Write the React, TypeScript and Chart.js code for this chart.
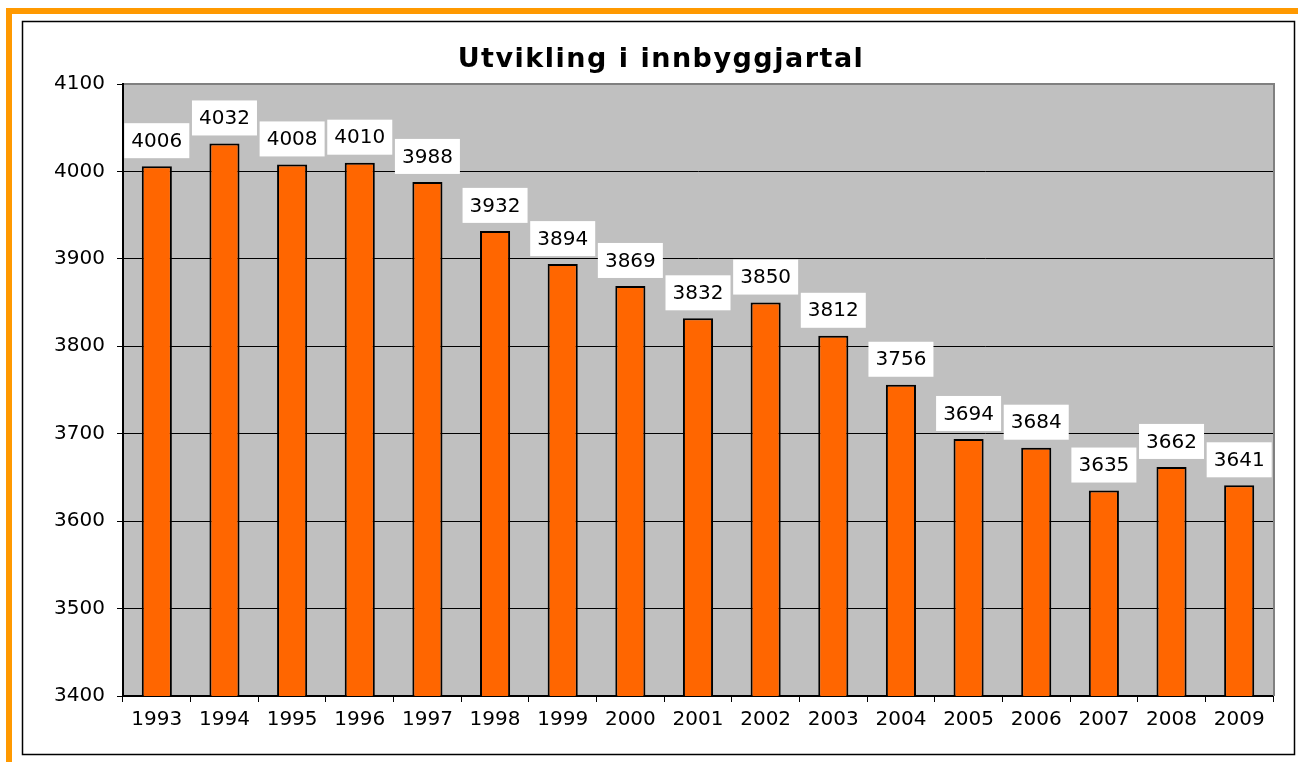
import React, { useEffect, useRef } from "react";
import { Chart, registerables } from "chart.js";

Chart.register(...registerables);

const chartTitle = "Utvikling i innbyggjartal";
const years = ["1993", "1994", "1995", "1996", "1997", "1998", "1999", "2000", "2001", "2002", "2003", "2004", "2005", "2006", "2007", "2008", "2009"];
const population = [4006, 4032, 4008, 4010, 3988, 3932, 3894, 3869, 3832, 3850, 3812, 3756, 3694, 3684, 3635, 3662, 3641];
const yMin = 3400;
const yMax = 4100;
const yStep = 100;

const FONT = "'DejaVu Sans', sans-serif";

const decorPlugin = {
  id: "decor",
  beforeDraw(chart: any) {
    const { ctx, chartArea, width, height } = chart;
    ctx.save();
    ctx.fillStyle = "#ffffff";
    ctx.fillRect(0, 0, width, height);
    // orange bands
    ctx.fillStyle = "#FF9900";
    ctx.fillRect(6, 8, width - 6, 6);
    ctx.fillRect(6, 8, 6, height - 8);
    // black frame
    ctx.strokeStyle = "#000";
    ctx.lineWidth = 1.5;
    ctx.strokeRect(22.5, 21.5, 1272, 733);
    // plot background
    ctx.fillStyle = "#C0C0C0";
    ctx.fillRect(chartArea.left, chartArea.top, chartArea.right - chartArea.left, chartArea.bottom - chartArea.top);
    ctx.restore();
  },
  afterDatasetsDraw(chart: any) {
    const { ctx } = chart;
    const meta = chart.getDatasetMeta(0);
    const data = chart.data.datasets[0].data;
    ctx.save();
    ctx.font = `20px ${FONT}`;
    ctx.textAlign = "center";
    ctx.textBaseline = "middle";
    meta.data.forEach((bar: any, i: number) => {
      const bw = 65;
      const bh = 35;
      const bottom = bar.y - 8;
      ctx.fillStyle = "#ffffff";
      ctx.fillRect(bar.x - bw / 2, bottom - bh, bw, bh);
      ctx.fillStyle = "#000";
      ctx.fillText(String(data[i]), bar.x, bottom - bh / 2 + 1);
    });
    ctx.restore();
  },
  afterDraw(chart: any) {
    const { ctx, chartArea } = chart;
    ctx.save();
    ctx.strokeStyle = "#808080";
    ctx.lineWidth = 2;
    ctx.beginPath();
    ctx.moveTo(chartArea.left + 1, chartArea.top);
    ctx.lineTo(chartArea.right + 1, chartArea.top);
    ctx.lineTo(chartArea.right + 1, chartArea.bottom);
    ctx.stroke();
    ctx.fillStyle = "#000";
    ctx.font = `bold 27px ${FONT}`;
    (ctx as any).letterSpacing = "1.5px";
    ctx.textAlign = "center";
    ctx.textBaseline = "alphabetic";
    ctx.fillText(chartTitle, 661, 67);
    ctx.restore();
  },
};

export default function App() {
  const canvasRef = useRef<HTMLCanvasElement | null>(null);

  useEffect(() => {
    const canvas = canvasRef.current;
    if (!canvas) return;
    const chart = new Chart(canvas, {
      type: "bar",
      data: {
        labels: years,
        datasets: [
          {
            data: population,
            backgroundColor: "#FF6600",
            borderColor: "#000000",
            borderWidth: 2,
            borderSkipped: "bottom",
            barPercentage: 0.445,
            categoryPercentage: 1,
          },
        ],
      },
      options: {
        responsive: false,
        animation: false,
        devicePixelRatio: 1,
        layout: { padding: { top: 84, left: 0, right: 25, bottom: 26 } },
        plugins: {
          legend: { display: false },
          title: { display: false },
          tooltip: { enabled: false },
        },
        scales: {
          x: {
            offset: true,
            afterFit: (scale: any) => {
              scale.height = 40;
            },
            grid: {
              offset: true,
              drawOnChartArea: false,
              drawTicks: true,
              tickLength: 6,
              color: "#000",
              tickColor: "#000",
            },
            border: { display: true, color: "#000", width: 2 },
            ticks: {
              color: "#000",
              font: { family: FONT, size: 20 },
              padding: 6,
              maxRotation: 0,
              autoSkip: false,
            },
          },
          y: {
            min: yMin,
            max: yMax,
            afterFit: (scale: any) => {
              scale.width = 123;
            },
            grid: {
              color: "#000",
              tickColor: "#000",
              lineWidth: 1,
              drawTicks: true,
              tickLength: 6,
            },
            border: { display: true, color: "#000", width: 2 },
            ticks: {
              stepSize: yStep,
              color: "#000",
              font: { family: FONT, size: 20 },
              padding: 12,
              callback: (value: any) => String(value),
            },
          },
        },
      },
      plugins: [decorPlugin],
    });
    return () => chart.destroy();
  }, []);

  return (
    <div style={{ position: "fixed", left: 0, top: 0, width: 1298, height: 762 }}>
      <canvas ref={canvasRef} width={1298} height={762} style={{ display: "block" }} />
    </div>
  );
}
